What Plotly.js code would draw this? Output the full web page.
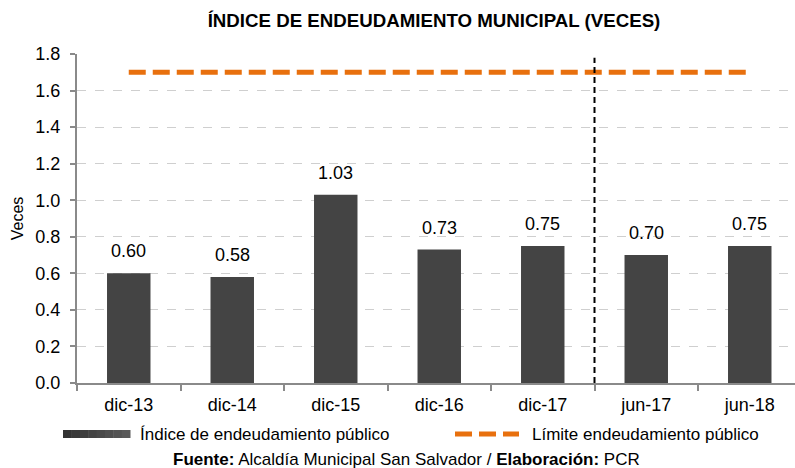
<!DOCTYPE html>
<html>
<head>
<meta charset="utf-8">
<script src="https://cdn.plot.ly/plotly-3.0.1.min.js"></script>
<style>
html,body{margin:0;padding:0;background:#fff;}
#chart{width:795px;height:468px;}
</style>
</head>
<body>
<div id="chart"></div>
<script>
// ---- data ----
var categories = ["dic-13", "dic-14", "dic-15", "dic-16", "dic-17", "jun-17", "jun-18"];
var indiceValues = [0.60, 0.58, 1.03, 0.73, 0.75, 0.70, 0.75];
var limiteValues = [1.7, 1.7, 1.7, 1.7, 1.7, 1.7, 1.7];
var labelTexts = ["0.60", "0.58", "1.03", "0.73", "0.75", "0.70", "0.75"];
var seriesNames = ["Índice de endeudamiento público", "Límite endeudamiento público"];
var titleText = "ÍNDICE DE ENDEUDAMIENTO MUNICIPAL (VECES)";
var yTitle = "Veces";
var sourceText = "<b>Fuente:</b> Alcaldía Municipal San Salvador / <b>Elaboración:</b> PCR";
var separatorAt = 4.5; // between dic-17 and jun-17

// ---- styles ----
var FONT = "Liberation Sans, Arial, sans-serif";
var BAR_COLOR = "#444444";
var ORANGE = "#E8700E";
var AXIS_GRAY = "#8a8a8a";

// pixel helpers for legend placement (plot area: x 77..795, y 54..383)
var PL = 77, PW = 718, PT = 54, PH = 329;
function px(x) { return (x - PL) / PW; }
function py(y) { return (PT + PH - y) / PH; }

var traces = [
  {
    type: "bar",
    x: categories,
    y: indiceValues,
    name: seriesNames[0],
    width: 0.42,
    marker: { color: BAR_COLOR, line: { width: 0 } },
    showlegend: false,
    hoverinfo: "x+y"
  },
  {
    type: "scatter",
    mode: "lines",
    x: categories,
    y: limiteValues,
    name: seriesNames[1],
    line: { color: ORANGE, width: 5, dash: "17px,7px" },
    showlegend: false
  }
];

var annotations = [];
for (var i = 0; i < categories.length; i++) {
  annotations.push({
    x: categories[i], y: indiceValues[i], xref: "x", yref: "y",
    text: labelTexts[i], showarrow: false,
    yanchor: "middle", yshift: 22,
    font: { family: FONT, size: 18, color: "#000" }
  });
}
// legend texts
annotations.push({
  xref: "paper", yref: "paper", x: px(138), y: py(434), xanchor: "left", yanchor: "middle",
  text: seriesNames[0], showarrow: false, font: { family: FONT, size: 17, color: "#000" }
});
annotations.push({
  xref: "paper", yref: "paper", x: px(530), y: py(434), xanchor: "left", yanchor: "middle",
  text: seriesNames[1], showarrow: false, font: { family: FONT, size: 17, color: "#000" }
});
// source
annotations.push({
  xref: "paper", yref: "paper", x: px(406), y: py(459), xanchor: "center", yanchor: "middle",
  text: sourceText, showarrow: false, font: { family: FONT, size: 17, color: "#000" }
});

var shapes = [
  {
    type: "line", xref: "x", yref: "y",
    x0: separatorAt, x1: separatorAt, y0: 0, y1: 1.78,
    line: { color: "#000", width: 2, dash: "6px,4px" }
  },
  // legend: orange dashes
  {
    type: "line", xref: "paper", yref: "paper",
    x0: px(455), x1: px(519), y0: py(434), y1: py(434),
    line: { color: ORANGE, width: 5, dash: "17px,7px" }
  }
];
// legend: bar swatch with left-to-right gradient
var steps = 8, x0 = 63, x1 = 130;
for (var s = 0; s < steps; s++) {
  var g = Math.round(0x33 + (0x5a - 0x33) * s / (steps - 1));
  var hex = g.toString(16);
  shapes.push({
    type: "rect", xref: "paper", yref: "paper",
    x0: px(x0 + (x1 - x0) * s / steps), x1: px(x0 + (x1 - x0) * (s + 1) / steps + 0.5),
    y0: py(438), y1: py(430),
    fillcolor: "#" + hex + hex + hex, line: { width: 0 }
  });
}

var layout = {
  width: 795, height: 468,
  margin: { l: PL, r: 0, t: PT, b: 468 - PT - PH, pad: 0 },
  paper_bgcolor: "#fff", plot_bgcolor: "#fff",
  font: { family: FONT, size: 18, color: "#000" },
  title: {
    text: "<b>" + titleText + "</b>",
    font: { family: FONT, size: 18.7, color: "#000" },
    x: 434 / 795, xref: "container", xanchor: "center",
    y: 1 - 20 / 468, yref: "container", yanchor: "middle"
  },
  showlegend: false,
  bargap: 0.58,
  xaxis: {
    type: "category",
    range: [-0.5, -0.5 + PW / 103.5],
    showline: true, linecolor: AXIS_GRAY, linewidth: 2,
    ticks: "outside", tickson: "boundaries", ticklen: 6, tickcolor: AXIS_GRAY, tickwidth: 2,
    showgrid: false, zeroline: false,
    tickfont: { family: FONT, size: 18, color: "#000" },
    ticklabelstandoff: 4,
    fixedrange: true
  },
  yaxis: {
    range: [0, 1.8], dtick: 0.2, tick0: 0, tickformat: ".1f",
    showline: true, linecolor: AXIS_GRAY, linewidth: 2,
    ticks: "outside", ticklen: 5, tickcolor: AXIS_GRAY, tickwidth: 2,
    showgrid: true, gridcolor: "#cfcfcf", gridwidth: 1, griddash: "dash",
    zeroline: false,
    tickfont: { family: FONT, size: 18, color: "#000" },
    ticklabelstandoff: 6,
    title: { text: yTitle, font: { family: FONT, size: 16, color: "#000" }, standoff: 8 },
    fixedrange: true
  },
  annotations: annotations,
  shapes: shapes
};

Plotly.newPlot("chart", traces, layout, { displayModeBar: false, staticPlot: true });
</script>
</body>
</html>
